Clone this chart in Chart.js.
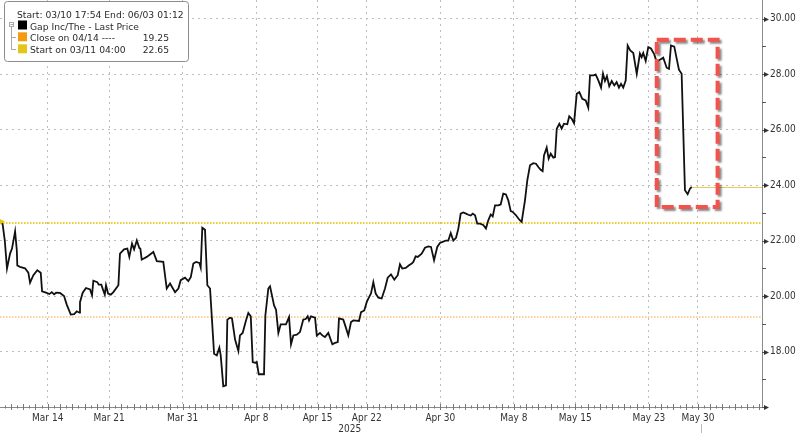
<!DOCTYPE html>
<html>
<head>
<meta charset="utf-8">
<script src="https://cdn.jsdelivr.net/npm/chart.js@4.4.1/dist/chart.umd.min.js"></script>
<style>
  html, body { margin: 0; padding: 0; background: #fff; }
  canvas { display: block; }
</style>
</head>
<body>
<canvas id="chart" width="800" height="433"></canvas>
<script>
// x = trading days since Mon Mar 10 (Mar 14 = 4, Mar 21 = 9 ...), y = price
const priceTimes = [
  0.25, 0.33, 0.50, 0.68, 0.93, 1.09, 1.34, 1.48, 1.52, 1.74, 2.15, 2.42, 2.56, 2.83, 3.15, 3.43, 3.54, 3.86,
  4.13, 4.33, 4.52, 4.68, 5.00, 5.33, 5.55, 5.88, 6.15, 6.37, 6.58, 6.63, 6.85, 7.12, 7.45, 7.61, 7.72, 8.04,
  8.16, 8.37, 8.53, 8.65, 8.75, 8.92, 9.14, 9.35, 9.76, 9.89, 10.22, 10.49, 10.65, 10.87, 11.04, 11.26, 11.47,
  11.55, 11.66, 12.07, 12.61, 12.89, 13.42, 13.70, 13.97, 14.38, 14.65, 14.84, 15.19, 15.46, 15.66, 15.87,
  16.09, 16.36, 16.47, 16.60, 16.82, 17.01, 17.23, 17.56, 17.78, 17.99, 18.10, 18.31, 18.53, 18.64, 18.86,
  19.02, 19.27, 19.54, 19.67, 19.89, 20.16, 20.35, 20.55, 20.71, 20.90, 21.04, 21.20, 21.63, 21.74, 21.98,
  22.12, 22.45, 22.61, 22.80, 22.99, 23.42, 23.67, 23.83, 24.02, 24.30, 24.56, 24.83, 25.03, 25.19, 25.30,
  25.46, 25.79, 25.93, 26.19, 26.38, 26.60, 26.87, 27.20, 27.42, 27.64, 27.74, 28.09, 28.29, 28.50, 28.72,
  28.91, 29.37, 29.54, 29.80, 30.00, 30.13, 30.35, 30.54, 30.73, 30.95, 31.22, 31.49, 31.71, 31.98, 32.25,
  32.53, 32.71, 32.90, 33.18, 33.45, 33.67, 33.80, 33.99, 34.16, 34.48, 34.75, 35.02, 35.24, 35.49, 35.75,
  35.97, 36.19, 36.46, 36.65, 36.85, 37.06, 37.28, 37.47, 37.66, 37.87, 38.09, 38.28, 38.48, 38.64, 38.83,
  39.01, 39.23, 39.50, 39.72, 39.91, 40.11, 40.27, 40.46, 40.73, 40.92, 41.13, 41.35, 41.54, 41.74, 41.90,
  42.17, 42.44, 42.63, 42.90, 43.09, 43.31, 43.58, 43.80, 43.99, 44.18, 44.34, 44.45, 44.67, 44.83, 45.00,
  45.21, 45.35, 45.49, 45.70, 45.89, 46.08, 46.35, 46.51, 46.71, 46.90, 47.12, 47.33, 47.57, 47.85, 48.06,
  48.20, 48.47, 48.66, 48.88, 49.10, 49.26, 49.42, 49.58, 49.77, 49.97, 50.18, 50.37, 50.56, 50.73, 50.91,
  51.11, 51.27, 51.48, 51.73, 52.01, 52.27, 52.41, 52.54, 52.74, 52.95, 53.17, 53.44, 53.64, 53.90, 54.17,
  54.45, 54.64, 54.80, 55.07, 55.27, 55.45, 55.67, 55.94, 56.16, 56.35, 56.49
];
const prices = [
  22.66, 22.57, 22.00, 20.99, 21.53, 21.71, 22.33, 21.65, 21.10, 21.05, 21.00, 20.84, 20.48, 20.75, 20.93, 20.84, 20.17, 20.12,
  20.07, 20.14, 20.06, 20.12, 20.11, 20.00, 19.69, 19.33, 19.35, 19.45, 19.40, 19.78, 20.12, 20.29, 20.24, 20.03, 20.55, 20.50,
  20.41, 20.41, 20.20, 20.05, 20.39, 20.09, 20.05, 20.14, 20.39, 21.53, 21.68, 21.71, 21.41, 21.89, 21.68, 22.00, 21.73,
  21.71, 21.31, 21.41, 21.59, 21.26, 21.23, 20.27, 20.45, 20.14, 20.27, 20.57, 20.66, 20.54, 20.68, 21.17,
  21.23, 21.19, 21.02, 22.46, 22.39, 20.39, 20.27, 17.92, 17.86, 18.14, 17.86, 16.75, 16.78, 19.15, 19.22,
  19.19, 18.43, 18.02, 18.58, 18.67, 19.12, 19.39, 19.27, 17.62, 17.59, 17.62, 17.18, 17.18, 19.30, 20.27,
  20.35, 19.66, 19.51, 18.67, 18.98, 18.98, 19.24, 18.26, 18.58, 18.61, 18.70, 19.15, 19.17, 19.27, 19.12,
  19.27, 19.22, 18.58, 18.67, 18.58, 18.52, 18.67, 18.26, 18.31, 18.34, 19.19, 19.15, 18.88, 18.58, 19.06,
  19.12, 19.10, 19.42, 19.48, 19.78, 19.91, 20.09, 20.50, 20.09, 19.94, 19.91, 20.27, 20.66, 20.78, 20.59,
  20.75, 21.14, 20.99, 21.01, 21.11, 21.17, 21.23, 21.43, 21.41, 21.53, 21.74, 21.79, 21.77, 21.29, 21.77,
  21.91, 21.95, 22.00, 22.00, 22.27, 22.00, 22.10, 22.43, 22.97, 23.01, 22.97, 22.93, 22.90, 22.97, 22.91,
  22.61, 22.61, 22.56, 22.43, 22.73, 22.94, 22.87, 23.27, 23.27, 23.30, 23.69, 23.66, 23.45, 23.06, 23.03,
  22.91, 22.75, 22.67, 23.45, 24.17, 24.71, 24.79, 24.77, 24.65, 24.55, 24.50, 25.07, 25.35, 24.95, 25.13,
  24.99, 25.01, 26.03, 26.21, 26.03, 26.21, 26.19, 26.48, 26.39, 26.23, 27.29, 27.35, 27.11, 27.05, 26.79,
  27.95, 27.95, 27.99, 27.77, 27.51, 28.02, 27.75, 27.92, 27.56, 27.75, 27.59, 27.71, 27.51, 27.65, 27.51,
  27.77, 29.03, 28.85, 28.76, 28.01, 28.74, 28.61, 28.76, 28.47, 28.97, 28.92, 28.71, 28.43, 28.52, 28.59,
  28.23, 28.19, 29.03, 28.99, 28.55, 28.16, 28.01, 23.81, 23.67, 23.87, 23.93
];

const tickDays = [4, 9, 15, 21, 26, 30, 36, 42, 47, 53, 57];
const tickLabels = ['Mar 14', 'Mar 21', 'Mar 31', 'Apr 8', 'Apr 15', 'Apr 22', 'Apr 30', 'May 8', 'May 15', 'May 23', 'May 30'];
const yearLabel = '2025';
const priceTicks = [18, 20, 22, 24, 26, 28, 30];

const closeLevel = 19.25;
const startLevel = 22.65;
const highlightTimes = [53.64, 58.6];
const highlightPrices = [23.21, 29.24];

const legendHeader = 'Start: 03/10 17:54 End: 06/03 01:12';
const legendLabels = ['Gap Inc/The - Last Price', 'Close on 04/14 ----', 'Start on 03/11 04:00'];
const legendValues = ['', closeLevel.toFixed(2), startLevel.toFixed(2)];

const AXIS_FONT = '"DejaVu Sans Condensed", "Liberation Sans Narrow", "DejaVu Sans", sans-serif';
const LEGEND_FONT = '9.2px "DejaVu Sans", sans-serif';
const legendColors = ['#000000', '#f39a0e', '#e4c61a'];

function hLine(ctx, x1, x2, y) {
  ctx.beginPath();
  ctx.moveTo(x1, y);
  ctx.lineTo(x2, y);
  ctx.stroke();
}

// keep the plot area flush with the canvas edges
function noPadding(s) {
  s.paddingTop = 0;
  s.paddingBottom = 0;
  s.paddingLeft = 0;
  s.paddingRight = 0;
}

const decorations = {
  id: 'decorations',
  beforeDatasetsDraw(chart) {
    const { ctx, chartArea: a, scales: { x, y } } = chart;
    ctx.save();
    ctx.lineWidth = 2;
    ctx.setLineDash([1.5, 1.5]);
    ctx.strokeStyle = '#fbd09a';
    hLine(ctx, a.left, a.right, Math.round(y.getPixelForValue(closeLevel)));
    ctx.strokeStyle = '#eccd2a';
    hLine(ctx, a.left, a.right, Math.round(y.getPixelForValue(startLevel)));
    // last price line
    ctx.setLineDash([]);
    ctx.lineWidth = 1;
    ctx.strokeStyle = '#e8cd55';
    const last = prices.length - 1;
    hLine(ctx, x.getPixelForValue(priceTimes[last]), a.right, Math.round(y.getPixelForValue(prices[last])) + 0.5);
    ctx.restore();
  },
  afterDatasetsDraw(chart) {
    const { ctx, chartArea: a, scales: { x, y } } = chart;
    ctx.save();
    // start marker
    const sy = y.getPixelForValue(startLevel);
    ctx.fillStyle = '#e8c614';
    ctx.beginPath();
    ctx.moveTo(a.left, sy - 3.5);
    ctx.lineTo(a.left + 5, sy - 1);
    ctx.lineTo(a.left, sy + 2);
    ctx.closePath();
    ctx.fill();

    // highlight box
    const x1 = x.getPixelForValue(highlightTimes[0]);
    const x2 = x.getPixelForValue(highlightTimes[1]);
    const y1 = y.getPixelForValue(highlightPrices[1]);
    const y2 = y.getPixelForValue(highlightPrices[0]);
    ctx.shadowColor = 'rgba(40,40,40,0.55)';
    ctx.shadowBlur = 2;
    ctx.shadowOffsetX = 2;
    ctx.shadowOffsetY = 2;
    ctx.strokeStyle = '#f2534b';
    ctx.lineWidth = 4;
    ctx.setLineDash([12, 5]);
    ctx.strokeRect(x1, y1, x2 - x1, y2 - y1);
    ctx.restore();
  },
  afterDraw(chart) {
    const { ctx, chartArea: a, scales: { x, y } } = chart;
    ctx.save();
    // y axis markers
    ctx.fillStyle = '#333';
    ctx.strokeStyle = '#555';
    ctx.lineWidth = 1;
    for (let v = 16; v <= 30; v++) {
      const py = Math.round(y.getPixelForValue(v)) + 0.5;
      if (v % 2 === 0) {
        hLine(ctx, a.right, a.right + 3, py);
        ctx.beginPath();
        ctx.moveTo(a.right + 2, py - 2.5);
        ctx.lineTo(a.right + 7, py);
        ctx.lineTo(a.right + 2, py + 2.5);
        ctx.closePath();
        ctx.fill();
      } else {
        hLine(ctx, a.right, a.right + 4, py);
      }
    }
    // x axis minor ticks
    ctx.strokeStyle = '#777';
    for (let d = Math.ceil(x.min * 2) / 2; d <= x.max; d += 0.5) {
      const px = Math.round(x.getPixelForValue(d)) + 0.5;
      const len = d % 1 === 0 ? 3 : 1.5;
      ctx.beginPath();
      ctx.moveTo(px, a.bottom - len);
      ctx.lineTo(px, a.bottom + len);
      ctx.stroke();
    }
    // year label and separator
    ctx.fillStyle = '#333';
    ctx.font = '10px ' + AXIS_FONT;
    ctx.textAlign = 'center';
    ctx.textBaseline = 'alphabetic';
    const mid = (priceTimes[0] + priceTimes[priceTimes.length - 1]) / 2;
    ctx.fillText(yearLabel, x.getPixelForValue(mid) + 3, 432);
    ctx.strokeStyle = '#bbb';
    const sepX = Math.round(x.getPixelForValue(tickDays[tickDays.length - 1])) + 3.5;
    ctx.beginPath();
    ctx.moveTo(sepX, a.bottom + 17);
    ctx.lineTo(sepX, chart.height);
    ctx.stroke();

    // legend box
    ctx.fillStyle = '#fff';
    ctx.strokeStyle = '#8c8c8c';
    ctx.beginPath();
    ctx.roundRect(4.5, 1.5, 184, 60, 3);
    ctx.fill();
    ctx.stroke();
    ctx.font = LEGEND_FONT;
    ctx.fillStyle = '#2b2b2b';
    ctx.textAlign = 'left';
    ctx.fillText(legendHeader, 17, 17.5);
    const rows = [29.5, 41.3, 53.3];
    // tree guides
    ctx.strokeStyle = '#aaa';
    ctx.strokeRect(9.5, 22.5, 4, 4);
    hLine(ctx, 10.5, 13, 24.5);
    ctx.beginPath();
    ctx.moveTo(11.5, 27);
    ctx.lineTo(11.5, 50);
    ctx.stroke();
    hLine(ctx, 11.5, 16, 37.5);
    hLine(ctx, 11.5, 16, 49.5);
    legendLabels.forEach((lbl, i) => {
      ctx.fillStyle = legendColors[i];
      ctx.fillRect(18, rows[i] - 9, 9, 9);
      ctx.fillStyle = '#2b2b2b';
      ctx.textAlign = 'left';
      ctx.fillText(lbl, 30, rows[i]);
      if (legendValues[i]) {
        ctx.textAlign = 'right';
        ctx.fillText(legendValues[i], 169, rows[i]);
      }
    });
    ctx.restore();
  }
};

new Chart(document.getElementById('chart'), {
  type: 'line',
  data: {
    datasets: [{
      label: 'Gap Inc/The - Last Price',
      data: priceTimes.map((t, i) => ({ x: t, y: prices[i] })),
      borderColor: '#111',
      borderWidth: 1.8,
      pointRadius: 0,
      tension: 0,
      fill: false
    }]
  },
  options: {
    responsive: false,
    animation: false,
    devicePixelRatio: 1,
    layout: { padding: 0 },
    plugins: { legend: { display: false }, tooltip: { enabled: false } },
    scales: {
      x: {
        type: 'linear',
        min: 0.11,
        max: 62.22,
        afterFit(s) { s.height = 26; noPadding(s); },
        afterBuildTicks(s) { s.ticks = tickDays.map(v => ({ value: v })); },
        ticks: {
          autoSkip: false,
          maxRotation: 0,
          padding: 5,
          color: '#333',
          font: { family: AXIS_FONT, size: 10 },
          callback: (v, i) => tickLabels[i]
        },
        grid: { color: '#bdbdbd', lineWidth: 1, drawTicks: false },
        border: { display: true, color: '#8a8a8a', width: 1, dash: [2, 4] }
      },
      y: {
        position: 'right',
        min: 16,
        max: 30.67,
        afterFit(s) { s.width = 38; noPadding(s); },
        afterBuildTicks(s) { s.ticks = priceTicks.map(v => ({ value: v })); },
        ticks: {
          padding: 8,
          color: '#333',
          font: { family: AXIS_FONT, size: 10 },
          callback: v => v.toFixed(2)
        },
        grid: { color: '#bdbdbd', lineWidth: 1, drawTicks: false },
        border: { display: true, color: '#8a8a8a', width: 1, dash: [2, 4] }
      }
    }
  },
  plugins: [decorations]
});
</script>
</body>
</html>
